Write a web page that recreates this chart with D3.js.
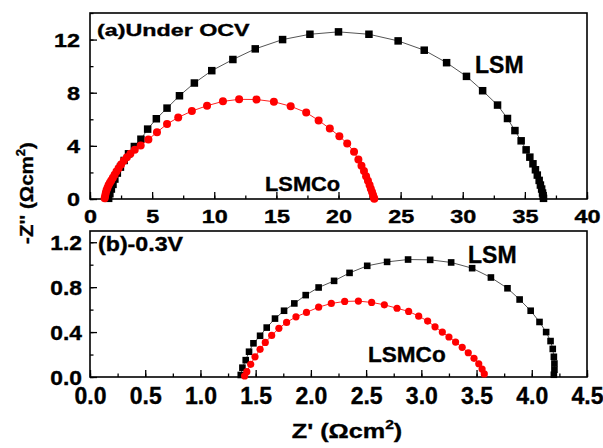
<!DOCTYPE html>
<html>
<head>
<meta charset="utf-8">
<script src="https://cdn.jsdelivr.net/npm/d3@7"></script>
<style>
  body { margin: 0; background: #fff; }
  text { font-family: Arial, "Liberation Sans", sans-serif; font-weight: bold; fill: #000; stroke: #000; stroke-width: 0.35px; }
</style>
</head>
<body>
<div id="chart"></div>
<script>
// (a) under OCV
const ocvLsmRe = [1.5, 1.6, 1.72, 1.85, 2.0, 2.2, 2.45, 2.75, 3.1, 3.57, 4.1, 4.64, 5.34, 6.2, 7.2, 8.4, 9.8, 11.5, 13.3, 15.5, 17.7, 20.0, 22.45, 24.8, 26.9, 28.7, 30.3, 31.6, 32.8, 33.6, 34.2, 34.7, 35.1, 35.4, 35.65, 35.85, 36.0, 36.15, 36.25, 36.35, 36.42, 36.47, 36.5];
const ocvLsmIm = [0.05, 0.4, 0.75, 1.1, 1.5, 1.95, 2.4, 2.9, 3.4, 3.95, 4.5, 5.26, 6.04, 6.84, 7.77, 8.73, 9.66, 10.5, 11.3, 12.0, 12.4, 12.58, 12.4, 11.9, 11.2, 10.26, 9.23, 8.15, 7.07, 6.06, 5.15, 4.38, 3.7, 3.15, 2.65, 2.2, 1.8, 1.4, 1.05, 0.75, 0.45, 0.25, 0.05];
const ocvCoRe = [1.18, 1.22, 1.27, 1.33, 1.41, 1.5, 1.6, 1.71, 1.84, 1.98, 2.13, 2.3, 2.5, 2.72, 2.97, 3.25, 3.6, 4.08, 4.7, 5.39, 6.2, 7.1, 8.2, 9.42, 10.7, 12.0, 13.4, 14.8, 16.15, 17.4, 18.4, 19.3, 20.07, 20.7, 21.25, 21.6, 21.85, 22.05, 22.22, 22.37, 22.5, 22.6, 22.7, 22.78, 22.84, 22.88];
const ocvCoIm = [0.05, 0.25, 0.45, 0.65, 0.85, 1.05, 1.22, 1.4, 1.6, 1.83, 2.07, 2.32, 2.6, 2.88, 3.15, 3.4, 3.7, 4.02, 4.48, 5.03, 5.64, 6.14, 6.62, 7.02, 7.35, 7.5, 7.49, 7.32, 6.98, 6.51, 5.91, 5.3, 4.73, 4.17, 3.55, 2.97, 2.5, 2.1, 1.72, 1.38, 1.06, 0.78, 0.52, 0.3, 0.12, 0.02];

// (b) -0.3V
const biasLsmRe = [1.365, 1.38, 1.41, 1.44, 1.48, 1.54, 1.6, 1.675, 1.757, 1.85, 1.953, 2.07, 2.21, 2.35, 2.51, 2.69, 2.88, 3.08, 3.27, 3.46, 3.63, 3.78, 3.89, 3.99, 4.07, 4.13, 4.17, 4.19, 4.2, 4.205, 4.205, 4.2];
const biasLsmIm = [0.018, 0.083, 0.15, 0.225, 0.3, 0.367, 0.44, 0.52, 0.59, 0.655, 0.729, 0.797, 0.856, 0.927, 0.99, 1.025, 1.046, 1.043, 1.02, 0.969, 0.886, 0.79, 0.69, 0.59, 0.49, 0.4, 0.32, 0.25, 0.18, 0.12, 0.065, 0.02];
const biasCoRe = [1.40, 1.42, 1.455, 1.494, 1.54, 1.587, 1.645, 1.71, 1.78, 1.865, 1.96, 2.07, 2.185, 2.306, 2.43, 2.55, 2.665, 2.78, 2.885, 2.976, 3.057, 3.124, 3.19, 3.25, 3.31, 3.37, 3.425, 3.477, 3.52, 3.55, 3.57];
const biasCoIm = [0.01, 0.047, 0.113, 0.18, 0.246, 0.308, 0.37, 0.433, 0.486, 0.536, 0.575, 0.622, 0.655, 0.673, 0.676, 0.664, 0.643, 0.612, 0.584, 0.542, 0.498, 0.447, 0.4, 0.356, 0.311, 0.264, 0.216, 0.166, 0.118, 0.071, 0.027];

const topXTicks = [0, 5, 10, 15, 20, 25, 30, 35, 40];
const topYTicks = [0, 4, 8, 12];
const botXTicks = [0.0, 0.5, 1.0, 1.5, 2.0, 2.5, 3.0, 3.5, 4.0, 4.5];
const botYTicks = [0.0, 0.4, 0.8, 1.2];

const width = 603, height = 448;

const svg = d3.select("#chart").append("svg")
    .attr("width", width)
    .attr("height", height);

// text helper, the source figure is stretched sideways
function stext(g, x, y, str, size, sx, anchor) {
    return g.append("text")
        .attr("transform", `translate(${x},${y}) scale(${sx},1)`)
        .attr("text-anchor", anchor || "start")
        .attr("font-size", size)
        .text(str);
}

function zip(a, b) { return a.map((v, i) => [v, b[i]]); }

function drawPanel(cfg) {
    const x = d3.scaleLinear().domain(cfg.xDom).range([90, 587]);
    const y = d3.scaleLinear().domain(cfg.yDom).range([cfg.bottom, cfg.top]);
    const g = svg.append("g");

    // minor ticks
    const minorX = d3.range(cfg.xDom[0], cfg.xDom[1] + 1e-9, cfg.xMinor);
    const minorY = d3.range(cfg.yDom[0], cfg.yDom[1] + 1e-9, cfg.yMinor);
    g.append("g")
        .attr("transform", `translate(0,${cfg.bottom})`)
        .call(d3.axisBottom(x).tickValues(minorX).tickSize(-3.5).tickFormat(""))
        .call(a => a.select(".domain").remove())
        .selectAll("line").attr("stroke-width", 1.3);
    g.append("g")
        .attr("transform", `translate(90,0)`)
        .call(d3.axisLeft(y).tickValues(minorY).tickSize(-3.5).tickFormat(""))
        .call(a => a.select(".domain").remove())
        .selectAll("line").attr("stroke-width", 1.3);

    // major ticks
    const xAx = g.append("g")
        .attr("transform", `translate(0,${cfg.bottom})`)
        .call(d3.axisBottom(x).tickValues(cfg.xTicks).tickSize(-7).tickFormat(cfg.xFmt));
    xAx.select(".domain").remove();
    xAx.selectAll("line").attr("stroke-width", 1.3);
    xAx.selectAll("text")
        .attr("y", null).attr("dy", null)
        .attr("font-size", cfg.xFont)
        .attr("font-family", null)
        .attr("transform", `translate(0,${cfg.xLabY}) scale(${cfg.xSx},1)`);

    const yAx = g.append("g")
        .attr("transform", `translate(90,0)`)
        .call(d3.axisLeft(y).tickValues(cfg.yTicks).tickSize(-7).tickFormat(cfg.yFmt));
    yAx.select(".domain").remove();
    yAx.selectAll("line").attr("stroke-width", 1.3);
    yAx.selectAll("text")
        .attr("x", null).attr("dy", "0.36em")
        .attr("font-size", cfg.yFont)
        .attr("font-family", null)
        .attr("transform", `translate(${cfg.yLabX},0) scale(${cfg.ySx},1)`);
    g.selectAll(".tick text").attr("fill", "#000");

    // frame
    g.append("rect")
        .attr("x", 90).attr("y", cfg.top)
        .attr("width", 497).attr("height", cfg.bottom - cfg.top)
        .attr("fill", "none")
        .attr("stroke", "#000")
        .attr("stroke-width", 1.6);

    const line = d3.line().x(d => x(d[0])).y(d => y(d[1]));
    const lsm = zip(cfg.lsmRe, cfg.lsmIm);
    const co = zip(cfg.coRe, cfg.coIm);

    g.append("path").datum(lsm)
        .attr("d", line).attr("fill", "none")
        .attr("stroke", "#555").attr("stroke-width", 1);
    g.append("g").selectAll("rect")
        .data(lsm).join("rect")
        .attr("x", d => x(d[0]) - cfg.sq / 2)
        .attr("y", d => y(d[1]) - cfg.sq / 2)
        .attr("width", cfg.sq).attr("height", cfg.sq)
        .attr("fill", "#000");

    g.append("path").datum(co)
        .attr("d", line).attr("fill", "none")
        .attr("stroke", "#f22").attr("stroke-width", 1);
    g.append("g").selectAll("circle")
        .data(co).join("circle")
        .attr("cx", d => x(d[0]))
        .attr("cy", d => y(d[1]))
        .attr("r", cfg.r)
        .attr("fill", "#ff0000");

    return g;
}

const gA = drawPanel({
    xDom: [0, 40], yDom: [0, 14], top: 13, bottom: 199,
    xMinor: 2.5, yMinor: 2,
    xTicks: topXTicks, yTicks: topYTicks,
    xFmt: d3.format("d"), yFmt: d3.format("d"),
    xFont: 18, xSx: 1.3, xLabY: 24,
    yFont: 18, ySx: 1.3, yLabX: -10,
    lsmRe: ocvLsmRe, lsmIm: ocvLsmIm, coRe: ocvCoRe, coIm: ocvCoIm,
    sq: 7.5, r: 4
});
stext(gA, 97, 36, "(a)Under OCV", 17, 1.37);
stext(gA, 475, 73, "LSM", 23, 1.0);
stext(gA, 265, 191, "LSMCo", 19.5, 1.12);

const gB = drawPanel({
    xDom: [0, 4.5], yDom: [0, 1.3], top: 231, bottom: 377,
    xMinor: 0.25, yMinor: 0.2,
    xTicks: botXTicks, yTicks: botYTicks,
    xFmt: d3.format(".1f"), yFmt: d3.format(".1f"),
    xFont: 23, xSx: 1.0, xLabY: 27,
    yFont: 19.5, ySx: 1.17, yLabX: -8,
    lsmRe: biasLsmRe, lsmIm: biasLsmIm, coRe: biasCoRe, coIm: biasCoIm,
    sq: 6.6, r: 3.6
});
stext(gB, 98, 251, "(b)-0.3V", 20, 1.16);
stext(gB, 468, 263, "LSM", 23, 1.0);
stext(gB, 368, 362, "LSMCo", 21.5, 1.05);

// axis titles
const xt = stext(svg, 347, 438, "", 21, 1.2, "middle");
xt.append("tspan").text("Z' (\u03A9cm");
xt.append("tspan").attr("dy", -9).attr("font-size", 13).text("2");
xt.append("tspan").attr("dy", 9).text(")");

const yt = svg.append("text")
    .attr("transform", "translate(33,193) rotate(-90) scale(1.08,1)")
    .attr("text-anchor", "middle")
    .attr("font-size", 19);
yt.append("tspan").text("-Z'' (\u03A9cm");
yt.append("tspan").attr("dy", -8).attr("font-size", 12).text("2");
yt.append("tspan").attr("dy", 8).text(")");
</script>
</body>
</html>
